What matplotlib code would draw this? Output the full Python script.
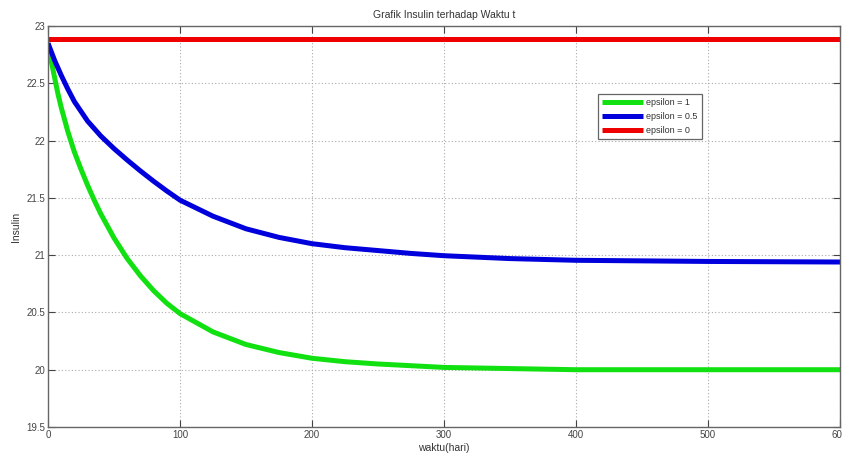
import matplotlib
matplotlib.use("Agg")
import matplotlib.pyplot as plt

plt.rcParams['font.family'] = ['Liberation Sans', 'DejaVu Sans']

# data
t_green = [0, 2.5, 5, 7.5, 10, 15, 20, 25, 30, 35, 40, 50, 60, 70, 80, 90, 100,
           125, 150, 175, 200, 225, 250, 300, 350, 400, 500, 600]
insulin_green = [22.85, 22.69, 22.55, 22.41, 22.29, 22.08, 21.90, 21.75, 21.61,
                 21.48, 21.36, 21.15, 20.97, 20.82, 20.69, 20.58, 20.49, 20.33,
                 20.22, 20.15, 20.10, 20.07, 20.05, 20.02, 20.01, 20.00, 20.00,
                 20.00]

t_blue = [0, 5, 10, 15, 20, 30, 40, 50, 60, 70, 80, 90, 100, 125, 150, 175,
          200, 225, 250, 275, 300, 350, 400, 500, 600]
insulin_blue = [22.85, 22.70, 22.57, 22.45, 22.34, 22.17, 22.04, 21.93, 21.83,
                21.735, 21.645, 21.56, 21.48, 21.34, 21.23, 21.155, 21.10,
                21.065, 21.04, 21.015, 20.995, 20.97, 20.955, 20.945, 20.94]

t_red = [0, 600]
insulin_red = [22.89, 22.89]

labels = ['epsilon = 1', 'epsilon = 0.5', 'epsilon = 0']
x_ticks = [0, 100, 200, 300, 400, 500, 600]
y_ticks = [19.5, 20, 20.5, 21, 21.5, 22, 22.5, 23]

fig = plt.figure(figsize=(8.42, 4.59), dpi=100)
ax = fig.add_axes([48/842, 1-427/459, (840-48)/842, (427-26)/459])

lw = 3.6
style = dict(lw=lw, solid_joinstyle='round', solid_capstyle='butt')
ax.plot(t_green, insulin_green, color='#11e011', label=labels[0], **style)
ax.plot(t_blue, insulin_blue, color='#0000dd', label=labels[1], **style)
ax.plot(t_red, insulin_red, color='#ee0000', label=labels[2], **style)

ax.set_xlim(0, 600)
ax.set_ylim(19.5, 23)
ax.set_xticks(x_ticks)
ax.set_yticks(y_ticks)
ax.set_yticklabels(['19.5', '20', '20.5', '21', '21.5', '22', '22.5', '23'])
ax.grid(True, color='#aaaaaa', linestyle=(0, (1, 2)), linewidth=0.8)
ax.tick_params(direction='in', length=5, width=0.8, top=True, right=True,
               labelsize=7, colors='#444444', pad=2)
for s in ax.spines.values():
    s.set_color('#666666')
    s.set_linewidth(1.0)

ax.set_title('Grafik Insulin terhadap Waktu t', fontsize=7.5, color='#333333', pad=6)
ax.set_xlabel('waktu(hari)', fontsize=7.5, color='#333333', labelpad=2)
ax.set_ylabel('Insulin', fontsize=7.5, color='#333333', labelpad=4)

leg = ax.legend(loc='upper left', bbox_to_anchor=(598/842, 1-94/459),
                bbox_transform=fig.transFigure, fontsize=6.5, fancybox=False,
                edgecolor='#666666', framealpha=1, handlelength=4.5,
                labelspacing=0.55, borderpad=0.45, handletextpad=0.4,
                borderaxespad=0)
leg.get_frame().set_linewidth(0.9)
for txt in leg.get_texts():
    txt.set_color('#333333')

fig.savefig('out.png', dpi=100)
